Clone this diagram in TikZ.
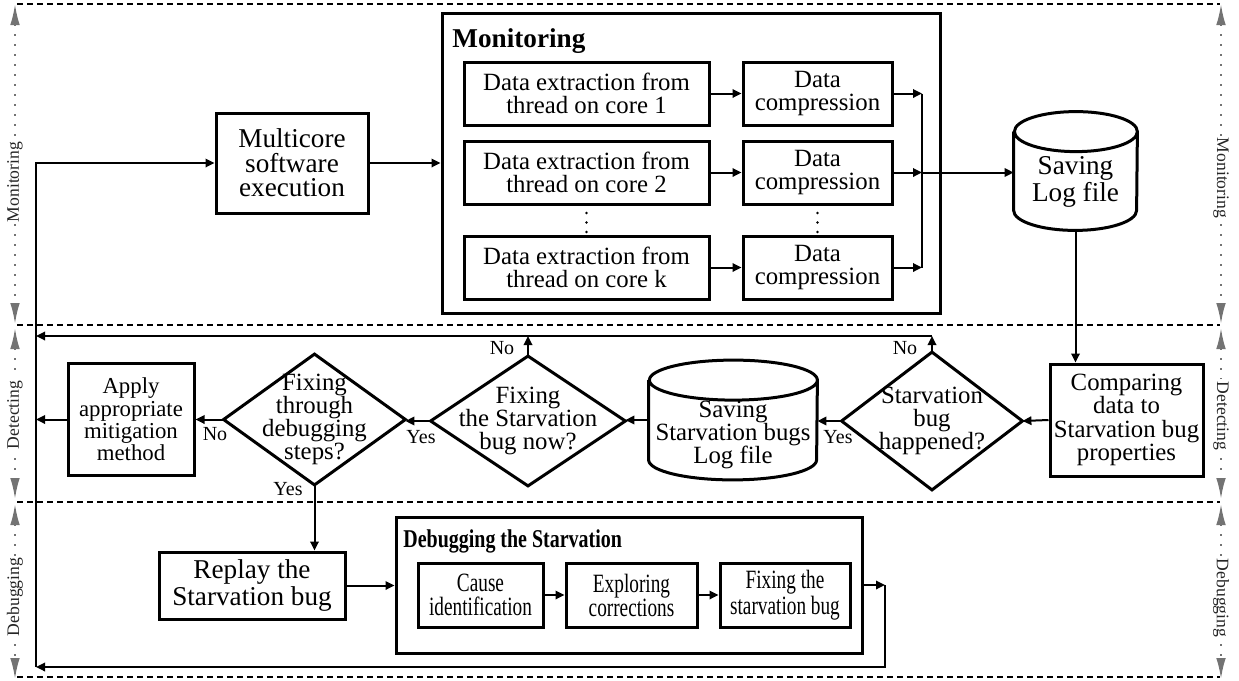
\documentclass[tikz,border=0pt]{standalone}
\usepackage{fontspec}
\setmainfont{Liberation Serif}
\newfontfamily\condfont[FakeStretch=0.73]{Liberation Serif}
\newfontfamily\condbfont[FakeStretch=0.78]{Liberation Serif}
\usetikzlibrary{arrows.meta}
\newcommand\mainsz{\fontsize{12.4}{11.6}\selectfont}
\newcommand\bigsz{\fontsize{13.6}{12.2}\selectfont}
\newcommand\smlsz{\fontsize{11.4}{11.2}\selectfont}
\newcommand\condsz{\condfont\fontsize{13.2}{12}\selectfont}
\newcommand\labsz{\fontsize{10}{11}\selectfont}
\newcommand\sidesz{\fontsize{8.8}{10}\selectfont}
\tikzset{
  box/.style={draw, line width=1.5pt, inner sep=0pt, align=center, font=\mainsz},
  cbox/.style={draw, line width=1.5pt, inner sep=0pt, align=center, font=\condsz},
  plain/.style={inner sep=0pt, align=center, font=\mainsz},
  outline/.style={line width=1.5pt, line join=miter},
  conn/.style={line width=1pt, -{Triangle[length=4.5pt,width=4.2pt]}},
  wire/.style={line width=1pt},
  lab/.style={inner sep=0pt, font=\labsz},
  sepline/.style={line width=0.9pt, dash pattern=on 3pt off 2pt},
  spanline/.style={black!55, line width=1pt, dash pattern=on 1pt off 4pt,
    {Latex[length=10.5pt,width=4.8pt]}-{Latex[length=10.5pt,width=4.8pt]}},
  spanlab/.style={fill=white, inner sep=1.2pt, font=\sidesz, text=black!85},
  ttl/.style={inner sep=0pt, font=\fontsize{13.6}{15}\selectfont\bfseries},
  cttl/.style={inner sep=0pt, font=\condbfont\fontsize{12.8}{15}\selectfont\bfseries},
}
\begin{document}
\begin{tikzpicture}[x=0.5pt,y=-0.5pt]
\useasboundingbox (0,0) rectangle (1239,681);

% separators
\draw[sepline] (17,4) -- (1220,4);
\draw[sepline] (17,325) -- (1220,325);
\draw[sepline] (17,502) -- (1220,502);
\draw[sepline] (17,677) -- (1220,677);

% side ranges
\draw[spanline] (15,4) -- (15,324);
\draw[spanline] (15,328) -- (15,499);
\draw[spanline] (15,504) -- (15,679);
\draw[spanline] (1221,4) -- (1221,324);
\draw[spanline] (1221,328) -- (1221,499);
\draw[spanline] (1221,504) -- (1221,679);
\node[spanlab, rotate=90] (lm) at (15,182) {Monitoring};
\node[spanlab, rotate=90] (ld) at (15,415) {Detecting};
\node[spanlab, rotate=90] (lg) at (15,597) {Debugging};
\node[spanlab, rotate=-90] (rm) at (1221,178) {Monitoring};
\node[spanlab, rotate=-90] (rd) at (1221,416) {Detecting};
\node[spanlab, rotate=-90] (rg) at (1221,598) {Debugging};

% monitoring
\node[box, font=\bigsz, minimum width=76pt, minimum height=50pt] (multi) at (292,163) {Multicore\\software\\execution};
\node[box, minimum width=249pt, minimum height=150pt] (mon) at (691,163) {};
\node[ttl, anchor=base west] (montitle) at (452,47) {Monitoring};
\node[box, minimum width=122.5pt, minimum height=31.5pt] (ext1) at (586.5,93.5) {Data extraction from\\thread on core 1};
\node[box, minimum width=122.5pt, minimum height=31.5pt] (ext2) at (586.5,172.5) {Data extraction from\\thread on core 2};
\node[box, minimum width=122.5pt, minimum height=31.5pt] (ext3) at (586.5,267.5) {Data extraction from\\thread on core k};
\node[box, minimum width=74.5pt, minimum height=31.5pt] (comp1) at (817.5,93.5) {Data\\compression};
\node[box, minimum width=74.5pt, minimum height=31.5pt] (comp2) at (817.5,172.5) {Data\\compression};
\node[box, minimum width=74.5pt, minimum height=31.5pt] (comp3) at (817.5,267.5) {Data\\compression};
\foreach \yy in {213,222.5,232} {
  \fill (586.5,\yy) circle (0.7pt);
  \fill (817.5,\yy) circle (0.7pt);
}
\coordinate (busT) at (922,93.5);
\coordinate (busM) at (922,172.5);
\coordinate (busB) at (922,267.5);

% saving log file (cylinder)
\node[plain, minimum width=61.5pt, minimum height=59pt] (save1) at (1075.5,171) {};
\node[plain, font=\bigsz] (save1txt) at (1075.5,182) {Saving\\Log file};
\draw[outline] ([yshift=-10pt]save1.north west) -- ([yshift=10pt]save1.south west)
  arc[start angle=180, end angle=360, x radius=30.75pt, y radius=10pt]
  -- ([yshift=-10pt]save1.north east)
  arc[start angle=0, end angle=360, x radius=30.75pt, y radius=10pt];

% detecting row
\node[box, minimum width=76.5pt, minimum height=56pt] (cmp) at (1126.5,420) {Comparing\\data to\\Starvation bug\\properties};
\node[plain, minimum width=90pt, minimum height=68.5pt] (d1) at (932,421) {Starvation\\bug\\happened?};
\draw[outline] (d1.north) -- (d1.east) -- (d1.south) -- (d1.west) -- cycle;
\node[plain, minimum width=84pt, minimum height=59.5pt] (save2) at (733,420) {};
\node[plain] (save2txt) at (733,435) {Saving\\Starvation bugs\\Log file};
\draw[outline] ([yshift=-10pt]save2.north west) -- ([yshift=10pt]save2.south west)
  arc[start angle=180, end angle=360, x radius=42pt, y radius=10pt]
  -- ([yshift=-10pt]save2.north east)
  arc[start angle=0, end angle=360, x radius=42pt, y radius=10pt];
\node[plain, minimum width=97pt, minimum height=64.5pt] (d2) at (528,421) {Fixing\\the Starvation\\bug now?};
\draw[outline] (d2.north) -- (d2.east) -- (d2.south) -- (d2.west) -- cycle;
\node[plain, minimum width=90.5pt, minimum height=65pt] (d3) at (314.5,419.5) {Fixing\\through\\debugging\\steps?};
\draw[outline] (d3.north) -- (d3.east) -- (d3.south) -- (d3.west) -- cycle;
\node[box, font=\smlsz, minimum width=63pt, minimum height=56pt] (apply) at (131,419.5) {Apply\\appropriate\\mitigation\\method};

% debugging row
\node[box, font=\bigsz, minimum width=93pt, minimum height=33.5pt] (replay) at (252,585.5) {Replay the\\Starvation bug};
\node[box, minimum width=233pt, minimum height=68pt] (dbg) at (629,585) {};
\node[cttl, anchor=base west] (dbgtitle) at (403,547) {Debugging the Starvation};
\node[cbox, minimum width=62.5pt, minimum height=32pt] (cause) at (480.5,595) {Cause\\identification};
\node[cbox, minimum width=65.5pt, minimum height=32pt] (expl) at (631.5,595) {Exploring\\corrections};
\node[cbox, minimum width=65pt, minimum height=32pt] (fix) at (785,595) {Fixing the\\starvation bug};

% helper coordinates
\coordinate (botL) at (36,667);
\coordinate (topL) at (36,163);
\coordinate (fb1) at (932,336);
\coordinate (fb2) at (528,336);
\coordinate (fbL) at (36,336);
\coordinate (brc) at (885,585);
\coordinate (brb) at (885,667);

% connectors
\draw[conn] (multi.east) -- (mon.west);
\draw[conn] (ext1.east) -- (comp1.west);
\draw[conn] (ext2.east) -- (comp2.west);
\draw[conn] (ext3.east) -- (comp3.west);
\draw[conn] (comp1.east) -- (busT);
\draw[conn] (comp2.east) -- (busM);
\draw[conn] (comp3.east) -- (busB);
\draw[wire] (busT) -- (busB);
\draw[conn] (busM) -- (busM -| save1.west);
\draw[conn] (save1.south) -- (save1.south |- cmp.north);
\draw[conn] (cmp.west) -- (d1.east);
\draw[conn] (d1.west) -- (d1.west -| save2.east);
\draw[conn] (save2.west) -- (save2.west -| d2.east);
\draw[conn] (d2.west) -- (d2.west -| d3.east);
\draw[conn] (d3.west) -- (d3.west -| apply.east);
\draw[conn] (apply.west) -- (apply.west -| botL);
\draw[conn] (d1.north) -- (fb1);
\draw[conn] (d2.north) -- (fb2);
\draw[conn] (fb1) -- (fbL);
\draw[conn] (d3.south) -- (d3.south |- replay.north);
\draw[conn] (replay.east) -- (replay.east -| dbg.west);
\draw[conn] (cause.east) -- (expl.west);
\draw[conn] (expl.east) -- (fix.west);
\draw[conn] (dbg.east) -- (brc);
\draw[conn] (brc) -- (brb) -- (botL);
\draw[conn] (botL) -- (topL) -- (multi.west);

% labels
\node[lab] (no1) at (905,348) {No};
\node[lab] (no2) at (502,348) {No};
\node[lab] (yes1) at (838,437) {Yes};
\node[lab] (yes2) at (421,437) {Yes};
\node[lab] (no3) at (215,434) {No};
\node[lab] (yes3) at (288,489) {Yes};
\end{tikzpicture}
\end{document}
